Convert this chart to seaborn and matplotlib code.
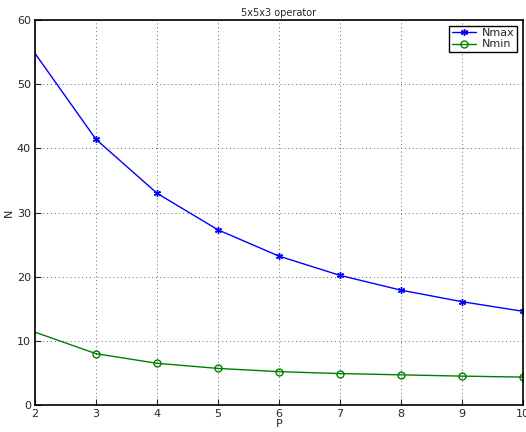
import matplotlib
matplotlib.use("Agg")
import matplotlib.pyplot as plt
import seaborn as sns
import pandas as pd

# Valores
P = [2, 3, 4, 5, 6, 7, 8, 9, 10]
n_max = [54.8, 41.4, 33.0, 27.3, 23.2, 20.2, 17.9, 16.1, 14.6]
n_min = [11.35, 8.0, 6.5, 5.7, 5.2, 4.9, 4.7, 4.5, 4.35]

df = pd.DataFrame({"P": P, "Nmax": n_max, "Nmin": n_min})

sns.set_style("ticks")
plt.rcParams["font.family"] = ["DejaVu Sans"]

fig = plt.figure(figsize=(5.26, 4.32), dpi=100)
ax = fig.add_axes([0.0665, 0.0625, 0.9278, 0.8912])

sns.lineplot(data=df, x="P", y="Nmax", ax=ax, color="#0000ff", lw=1,
             marker=(6, 2, 0), markersize=5, markevery=list(range(1, 9)),
             markeredgecolor="#0000ff", markeredgewidth=1, label="Nmax")
sns.lineplot(data=df, x="P", y="Nmin", ax=ax, color="#008000", lw=1,
             marker="o", markersize=5, markerfacecolor="none",
             markeredgecolor="#008000", markeredgewidth=1,
             markevery=list(range(1, 9)), label="Nmin")

ax.set_xlim(2, 10)
ax.set_ylim(0, 60)
ax.set_xticks(range(2, 11))
ax.set_yticks(range(0, 61, 10))
ax.grid(True, linestyle=(0, (1, 3)), color="#666666", linewidth=0.7)
ax.tick_params(direction="in", labelsize=8, length=4, width=0.8, pad=3)
for s in ax.spines.values():
    s.set_linewidth(1.2)
    s.set_color("black")
ax.set_xlabel("P", fontsize=8, labelpad=0)
ax.set_ylabel("N", fontsize=8, labelpad=2)
ax.set_title("5x5x3 operator", fontsize=7, pad=3)

leg = ax.legend(loc="upper right", fontsize=8, fancybox=False, framealpha=1,
                edgecolor="black", borderaxespad=0.5, handlelength=2.2,
                borderpad=0.25, labelspacing=0.1, handletextpad=0.5)
leg.get_frame().set_linewidth(1.0)

fig.savefig("out.png", dpi=100)
plt.close(fig)
